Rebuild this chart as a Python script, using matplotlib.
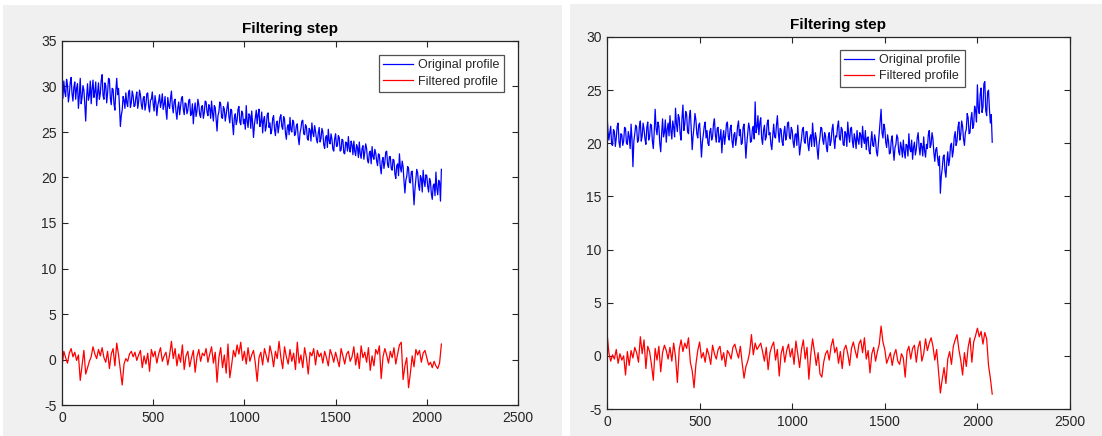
import numpy as np
import matplotlib
matplotlib.use("Agg")
import matplotlib.pyplot as plt
from matplotlib.patches import Rectangle

plt.rcParams['font.family'] = ['Liberation Sans', 'DejaVu Sans']
plt.rcParams['axes.unicode_minus'] = False

# raw profiles are sampled every 5 units, filtered ones every 10
step_orig = 5
step_filt = 10

# first run: raw depth profile and its filtered version
orig_a = [
    29.5, 28.7, 30.6, 29.4, 28.9, 30.8, 30.2, 28.3, 29.1, 30.4, 31.0, 29.2, 28.4, 29.9, 30.5, 28.6, 29.8, 30.3, 27.6, 29.0,
    30.9, 28.1, 28.8, 30.1, 29.6, 28.0, 26.2, 28.9, 30.3, 28.5, 29.0, 30.6, 28.1, 29.7, 30.7, 28.8, 29.4, 30.5, 27.9, 29.3,
    30.4, 28.6, 29.2, 30.7, 31.3, 29.0, 28.6, 30.4, 30.1, 28.2, 29.3, 30.9, 30.8, 28.7, 28.0, 29.8, 29.7, 28.1, 27.4, 29.5,
    30.9, 29.1, 29.8, 27.9, 25.6, 26.8, 27.4, 28.9, 28.5, 27.6, 29.3, 28.2, 27.8, 29.4, 29.6, 27.7, 28.2, 29.5, 29.0, 27.8,
    27.9, 28.8, 29.4, 27.6, 28.3, 29.6, 29.1, 28.0, 27.5, 28.7, 28.9, 27.4, 28.0, 29.2, 29.3, 27.8, 27.2, 28.5, 28.6, 29.4,
    28.1, 27.3, 29.0, 28.2, 26.8, 27.9, 28.4, 29.1, 27.7, 28.3, 29.2, 27.5, 28.0, 28.9, 27.3, 26.4, 28.8, 27.9, 27.6, 28.7,
    29.5, 27.8, 27.1, 28.4, 28.6, 27.2, 26.4, 27.7, 28.3, 26.9, 27.8, 28.7, 28.9, 27.5, 26.9, 28.2, 28.1, 27.0, 27.4, 28.5,
    28.6, 26.8, 27.0, 28.1, 25.9, 27.4, 28.2, 26.7, 27.3, 28.6, 28.0, 26.9, 26.6, 27.8, 27.9, 26.5, 27.1, 28.4, 28.3, 27.2,
    26.8, 28.0, 27.6, 26.5, 28.4, 27.1, 26.2, 27.9, 27.7, 26.4, 25.1, 26.8, 27.2, 28.3, 28.1, 26.6, 26.5, 27.8, 27.5, 26.2,
    26.9, 27.7, 28.3, 26.7, 26.0, 27.5, 27.4, 25.9, 24.7, 26.6, 27.0, 25.8, 26.3, 27.5, 27.8, 26.1, 25.8, 27.3, 27.1, 25.9,
    26.4, 25.3, 27.9, 26.2, 25.5, 27.0, 26.8, 25.4, 27.3, 26.0, 24.4, 25.8, 26.6, 27.4, 25.9, 26.9, 27.5, 25.6, 26.1, 27.2,
    24.9, 26.3, 26.7, 25.1, 25.6, 26.9, 27.1, 25.5, 26.0, 24.8, 25.2, 26.5, 26.8, 25.3, 24.6, 25.9, 26.2, 24.9, 25.7, 26.6,
    26.9, 25.6, 25.3, 26.7, 26.4, 24.9, 24.2, 25.5, 25.8, 24.7, 26.6, 25.2, 25.0, 26.3, 26.1, 24.6, 24.8, 25.7, 25.9, 24.4,
    23.6, 24.9, 25.4, 26.2, 26.3, 24.8, 24.7, 25.8, 25.6, 24.3, 24.1, 25.4, 25.2, 24.0, 26.0, 24.9, 24.5, 25.7, 25.1, 24.2,
    23.8, 24.9, 25.5, 23.9, 24.3, 25.4, 25.0, 23.6, 23.2, 24.4, 24.6, 23.3, 25.3, 24.0, 23.7, 24.8, 24.2, 23.1, 22.9, 24.3,
    24.8, 23.4, 23.5, 24.6, 24.4, 22.9, 23.0, 24.2, 24.1, 22.7, 22.6, 23.9, 23.8, 22.9, 24.5, 23.2, 22.8, 24.0, 23.6, 22.5,
    24.0, 22.9, 22.4, 23.6, 23.3, 22.2, 23.9, 22.6, 22.1, 23.2, 23.5, 22.0, 22.8, 23.7, 23.2, 21.9, 21.6, 22.7, 22.9, 21.5,
    23.4, 22.3, 22.0, 23.1, 22.7, 21.8, 21.3, 22.6, 22.5, 21.2, 20.4, 21.8, 22.2, 21.0, 21.7, 22.8, 22.9, 21.4, 21.1, 22.3,
    22.3, 21.0, 20.8, 22.0, 21.9, 20.4, 19.9, 21.3, 21.5, 20.2, 22.6, 21.1, 20.6, 21.8, 21.2, 19.6, 18.3, 19.7, 20.1, 21.2,
    21.0, 19.5, 19.4, 20.6, 20.7, 18.9, 17.0, 18.7, 19.8, 20.9, 20.5, 19.1, 18.6, 20.2, 19.9, 18.4, 20.8, 19.6, 19.0, 20.3,
    20.2, 19.0, 18.4, 19.9, 19.6, 18.2, 17.6, 19.1, 19.3, 18.0, 20.6, 18.8, 18.1, 19.7, 19.5, 17.4, 20.9,
]
filt_a = [
    -0.8, 0.9, 0.2, -0.4, 0.7, 1.2, 0.3, 0.8, -0.1, 0.5, -2.3, -0.6, 1.0, -1.6, -0.9, -0.2, 0.3, 1.4, 0.6, 0.1,
    1.1, 0.4, 1.3, 0.2, -0.3, 0.9, -1.0, 0.6, 1.2, -0.7, 1.8, 0.5, -1.2, -2.8, -0.5, 0.1, -0.2, 0.6, 0.9, 0.3,
    0.8, -0.1, 0.5, 1.0, -0.9, 0.4, -0.5, 0.7, -1.3, 1.1, 0.3, 0.9, -0.4, 0.6, 1.3, -0.2, 0.4, 0.8, -0.6, 0.5,
    2.0, 0.1, 1.2, -0.7, 0.6, -0.3, 1.6, -1.1, 0.4, 0.9, -0.8, 0.2, 1.0, -1.4, 0.3, 1.1, -0.2, 0.7, 0.4, 1.2,
    -0.3, 0.6, 1.4, -0.4, 0.8, -2.5, 0.2, 1.3, -0.9, 0.5, -1.5, 1.7, -2.0, -0.6, 1.0, 0.3, 1.6, 0.6, 1.9, -0.1,
    0.9, -0.5, 1.3, -0.2, 0.5, 1.0, -0.4, -2.4, 0.2, 0.8, -0.6, 1.2, 0.4, -0.3, 1.5, 0.6, -0.8, 0.9, 0.1, 2.0,
    0.2, -1.0, 1.4, 0.3, -0.5, 1.1, -0.2, 0.7, -1.1, 1.9, -0.4, 0.5, -0.9, 1.3, 0.2, -1.6, 0.8, 0.4, 1.2, -0.6,
    1.0, 0.3, 0.7, -0.4, 0.9, 0.2, -0.7, 1.1, 0.5, -0.3, 0.8, 0.0, -0.8, 1.2, 0.4, -0.5, 0.6, 0.9, -0.2, 0.3,
    1.4, -0.6, 0.7, -1.0, 1.5, 0.2, 0.8, -0.3, 1.3, -1.2, 0.4, -0.7, 1.1, 0.6, 1.5, -2.1, 0.3, 1.2, 0.5, -0.4,
    0.9, 0.2, 1.3, -0.5, 0.6, 1.6, 1.9, -2.2, -0.7, 0.2, -3.1, -1.5, 0.4, -0.8, 1.1, 0.5, 1.0, -0.3, 0.7, 1.0,
    0.2, -0.6, -0.3, -0.9, -0.2, -0.7, -1.0, -0.4, 1.7,
]

# second run
orig_b = [
    22.8, 21.2, 20.3, 21.0, 21.6, 19.9, 19.8, 21.3, 21.1, 19.7, 20.5, 21.6, 21.9, 20.1, 19.6, 20.9, 20.8, 19.8, 20.2, 21.5,
    21.4, 20.0, 19.9, 21.1, 20.6, 19.5, 21.8, 20.4, 17.8, 20.2, 20.9, 21.7, 21.5, 20.1, 20.3, 21.6, 22.1, 20.2, 20.7, 21.9,
    21.3, 20.4, 19.9, 21.5, 22.0, 20.3, 20.6, 21.8, 21.7, 20.2, 19.5, 21.1, 23.2, 21.4, 20.8, 22.0, 21.6, 20.0, 19.2, 20.9,
    22.3, 20.6, 21.0, 22.2, 20.1, 21.3, 21.9, 20.7, 22.6, 21.2, 20.4, 22.1, 21.5, 20.6, 23.3, 21.8, 21.1, 22.7, 22.4, 20.9,
    20.3, 22.4, 23.6, 21.2, 21.8, 23.0, 22.7, 21.1, 20.9, 22.5, 23.1, 21.3, 19.4, 20.7, 21.6, 22.8, 22.2, 20.9, 20.5, 21.7,
    21.9, 20.4, 18.7, 20.1, 20.8, 21.6, 22.0, 20.5, 21.2, 20.0, 19.8, 21.1, 21.4, 20.3, 20.6, 21.8, 22.3, 20.8, 20.1, 21.4,
    21.5, 20.1, 20.4, 21.3, 19.1, 20.5, 21.2, 19.9, 20.7, 21.8, 22.0, 20.6, 20.3, 21.4, 21.7, 20.2, 19.6, 20.8, 21.0, 19.8,
    20.5, 21.6, 22.1, 20.7, 21.3, 19.9, 20.0, 21.5, 21.8, 20.3, 18.6, 20.0, 20.9, 21.9, 21.4, 20.1, 20.2, 21.3, 21.6, 20.4,
    23.9, 21.0, 21.5, 22.6, 20.8, 21.9, 22.4, 20.5, 19.9, 21.2, 21.7, 20.3, 20.6, 21.9, 22.2, 20.8, 21.0, 19.9, 19.4, 20.7,
    21.8, 20.6, 20.5, 21.7, 22.6, 21.0, 20.1, 21.4, 21.3, 20.2, 19.8, 21.0, 21.6, 20.3, 20.7, 21.9, 22.0, 20.6, 20.4, 21.5,
    21.2, 20.1, 19.6, 20.8, 20.9, 19.8, 21.7, 20.4, 18.9, 19.7, 20.4, 21.3, 21.5, 20.2, 20.0, 21.1, 21.1, 19.9, 19.3, 20.5,
    20.8, 19.7, 21.9, 20.6, 19.7, 21.0, 20.5, 19.4, 18.5, 19.9, 20.6, 21.5, 21.4, 20.3, 19.9, 21.0, 20.7, 19.6, 19.2, 20.6,
    21.0, 19.8, 20.2, 21.3, 21.8, 20.4, 19.5, 20.7, 20.6, 21.6, 22.1, 20.5, 20.3, 21.5, 21.3, 19.9, 19.8, 21.1, 20.9, 19.7,
    22.0, 20.8, 20.1, 21.4, 21.5, 20.2, 19.6, 20.9, 20.4, 19.5, 21.2, 20.3, 19.9, 21.0, 20.8, 19.6, 21.6, 20.4, 20.0, 21.2,
    19.4, 20.5, 20.6, 19.3, 19.0, 20.2, 21.1, 19.8, 19.7, 20.8, 20.3, 19.2, 18.8, 19.9, 20.9, 22.1, 23.2, 21.0, 20.5, 21.8,
    21.4, 20.1, 19.6, 20.8, 20.2, 19.0, 19.1, 20.3, 20.7, 19.4, 18.4, 19.6, 19.9, 20.8, 20.5, 19.2, 18.9, 20.1, 19.6, 18.7,
    20.3, 19.2, 18.6, 19.9, 19.8, 18.8, 20.9, 19.5, 19.2, 20.3, 18.5, 19.6, 20.1, 18.9, 19.4, 20.5, 21.0, 19.7, 18.9, 20.0,
    19.7, 18.8, 20.6, 19.3, 18.7, 19.9, 19.5, 20.8, 21.2, 19.6, 19.9, 21.0, 20.4, 19.1, 18.3, 19.4, 19.6, 18.6, 17.9, 18.8,
    15.3, 16.9, 17.6, 18.7, 18.9, 17.4, 16.8, 18.3, 19.2, 17.9, 18.5, 19.8, 20.0, 18.7, 19.3, 20.6, 21.1, 19.8, 20.2, 21.5,
    22.0, 20.3, 20.8, 22.1, 21.6, 20.4, 19.8, 21.0, 21.3, 22.8, 22.4, 20.9, 21.0, 22.3, 22.9, 21.4, 21.7, 23.5, 23.1, 22.0,
    25.5, 23.3, 22.8, 24.6, 25.2, 22.9, 23.4, 25.6, 25.8, 23.1, 22.6, 24.8, 25.0, 23.2, 21.9, 22.7, 20.1,
]
filt_b = [
    2.2, 0.3, -0.5, 0.1, -0.3, 0.6, -0.7, 0.2, -0.4, 0.0, -1.8, 0.4, -0.9, 0.5, -0.2, 0.8, 0.3, -0.6, 1.8, 0.2,
    1.5, -1.2, 0.9, 0.4, -0.8, -2.3, 0.7, -0.4, 0.9, -1.5, 0.3, 1.0, 0.5, -0.3, 0.8, -0.5, 1.2, -0.1, -2.5, 0.6,
    1.5, 0.4, 1.2, 0.7, 1.7, -0.6, -1.4, -3.0, -0.8, 0.5, 1.3, -0.2, 0.3, -0.6, 0.7, 0.1, -0.8, 1.0, 0.2, -0.3,
    0.6, 0.9, -0.4, 0.3, -1.0, 0.5, 0.2, -0.3, 0.8, 1.1, 0.4, -0.2, 0.9, -0.7, -2.1, -1.0, -0.5, 0.3, 2.0, 0.1,
    1.2, 0.6, 0.9, 1.2, 0.4, -0.5, 0.8, -1.3, 0.3, 0.9, 1.3, -0.4, 0.6, -1.9, 0.2, 0.9, -0.6, 0.5, 1.1, -0.1,
    0.7, -0.8, 1.4, 0.2, -1.1, 0.6, 1.5, -0.3, 0.8, -2.2, 0.1, 1.6, 0.4, -0.9, 0.3, -1.7, -2.0, -0.6, 0.2, 0.5,
    -0.4, 0.9, 1.6, 0.3, 0.8, -0.7, 0.4, -1.2, 0.6, 1.0, 0.2, -0.9, 0.7, 1.3, 0.5, -0.2, 1.1, 1.5, 0.3, 1.7,
    -0.3, 0.5, -1.6, 0.2, 0.8, -0.5, 0.4, 1.1, 2.8, 1.3, 0.6, -0.7, -0.2, 0.3, -0.9, 0.1, 0.6, -0.5, -0.8, 0.2,
    -0.2, -2.0, 0.4, 0.9, -0.3, 0.7, 1.0, -0.6, 0.8, 1.4, -0.5, 0.2, 1.6, 0.5, 1.2, 1.7, 0.9, -0.4, 0.6, -1.5,
    -3.5, -2.2, -1.1, -2.6, -0.3, 0.4, -0.8, 0.9, 1.5, 2.0, 0.6, -0.4, -1.8, 0.3, -1.0, 0.8, 1.7, -0.6, 1.3, 1.9,
    2.6, 1.8, 2.3, 1.1, 2.2, 1.6, -0.9, -2.1, -3.6,
]

xticks = [0, 500, 1000, 1500, 2000, 2500]
ylims_a = (-5, 35)
ylims_b = (-5, 30)

ink = "#262626"
panel_bg = "#f0f0f0"

fig = plt.figure(figsize=(11.02, 4.36), dpi=100, facecolor="white")
W, H = 1102, 436

# two grey figure windows
fig.patches.append(Rectangle((3 / W, 0), 559 / W, 431 / H, transform=fig.transFigure,
                             facecolor=panel_bg, edgecolor="none", zorder=-10))
fig.patches.append(Rectangle((570 / W, 0), 532 / W, 432 / H, transform=fig.transFigure,
                             facecolor=panel_bg, edgecolor="none", zorder=-10))

ax_a = fig.add_axes([62 / W, 31 / H, 456 / W, 364 / H])
ax_b = fig.add_axes([607 / W, 27 / H, 463 / W, 372 / H])


def draw_panel(ax, orig, filt, ylims, leg_anchor):
    x_orig = np.arange(len(orig)) * step_orig
    x_filt = np.arange(len(filt)) * step_filt
    ax.plot(x_orig, orig, color=(0, 0, 1), lw=0.9, label="Original profile")
    ax.plot(x_filt, filt, color=(1, 0, 0), lw=0.9, label="Filtered profile")
    ax.set_xlim(0, 2500)
    ax.set_ylim(*ylims)
    ax.set_xticks(xticks)
    ax.set_yticks(np.arange(ylims[0], ylims[1] + 1, 5))
    ax.set_title("Filtering step", fontsize=11, fontweight="bold", color="black", pad=6)
    ax.tick_params(direction="in", length=4, width=0.8, top=True, right=True,
                   colors=ink, labelsize=10, pad=4)
    for sp in ax.spines.values():
        sp.set_color(ink)
        sp.set_linewidth(0.9)
    leg = ax.legend(loc="upper right", bbox_to_anchor=leg_anchor, fontsize=9,
                    frameon=True, fancybox=False, handlelength=2.4, handletextpad=0.4,
                    labelspacing=0.35, borderpad=0.35, borderaxespad=0)
    leg.get_frame().set_edgecolor(ink)
    leg.get_frame().set_linewidth(0.9)
    for t in leg.get_texts():
        t.set_color(ink)


draw_panel(ax_a, orig_a, filt_a, ylims_a, (0.969, 0.962))
draw_panel(ax_b, orig_b, filt_b, ylims_b, (0.773, 0.966))

fig.savefig("out.png", dpi=100, facecolor=fig.get_facecolor())
